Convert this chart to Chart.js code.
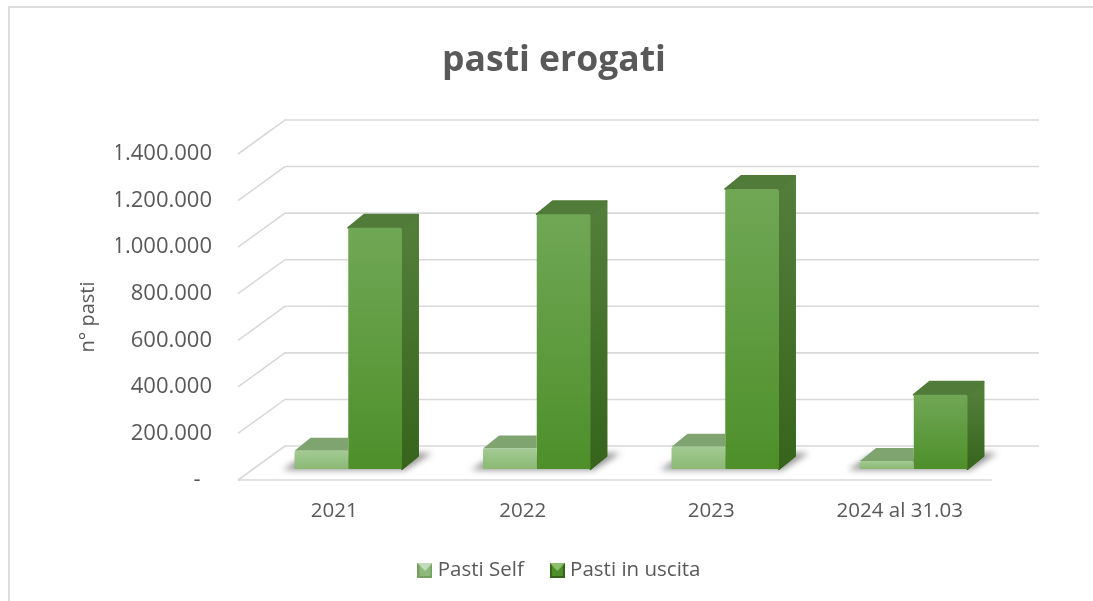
<!DOCTYPE html>
<html>
<head>
<meta charset="utf-8">
<title>pasti erogati</title>
<script src="https://cdn.jsdelivr.net/npm/chart.js@4"></script>
<style>
    html, body { margin: 0; padding: 0; background: #fff; }
    #wrap { position: relative; width: 1093px; height: 601px; overflow: hidden; }
    #frame { position: absolute; left: 8px; top: 6px; width: 1100px; height: 700px; border: 2px solid #dcdcdc; box-sizing: border-box; }
    canvas { position: absolute; left: 0; top: 0; }
</style>
</head>
<body>
<div id="wrap">
    <div id="frame"></div>
    <canvas id="myChart" width="1093" height="601"></canvas>
</div>

<script>
    const categories = ['2021', '2022', '2023', '2024 al 31.03'];
    const pastiSelf = [78000, 88000, 96000, 34000];
    const pastiUscita = [1036000, 1094000, 1202000, 319000];
    const tickLabels = ['-  ', '200.000', '400.000', '600.000', '800.000', '1.000.000', '1.200.000', '1.400.000'];

    const textColor = '#595959';
    const fontName = '"Open Sans", sans-serif';

    // how far the bars sit inside the floor, and how deep they and the floor are
    const barShift = { x: 16, y: -11 };
    const barDepth = { x: 16, y: -13 };
    const wallDepth = { x: 47, y: -34 };

    const selfColors = { frontTop: '#a3ca93', frontBottom: '#8bb974', top: '#80a470' };
    const uscitaColors = { frontTop: '#70a755', frontBottom: '#4e8f2a', top: '#507b38', sideTop: '#527e3a', sideBottom: '#37641b' };

    function frontGradient(context, colors) {
        const chart = context.chart;
        if (!chart.chartArea || context.parsed === undefined) return colors.frontBottom;
        const y = chart.scales.y;
        const g = chart.ctx.createLinearGradient(0, y.getPixelForValue(context.parsed.y), 0, y.getPixelForValue(0));
        g.addColorStop(0, colors.frontTop);
        g.addColorStop(1, colors.frontBottom);
        return g;
    }

    function legendIcon(light, mid, dark) {
        const c = document.createElement('canvas');
        c.width = 15;
        c.height = 15;
        const x = c.getContext('2d');
        x.fillStyle = mid;
        x.fillRect(0, 0, 15, 15);
        x.fillStyle = dark;
        x.fillRect(0, 0, 2, 15);
        x.fillRect(13, 0, 2, 15);
        x.fillRect(0, 13, 15, 2);
        x.fillStyle = light;
        x.beginPath();
        x.moveTo(0, 0);
        x.lineTo(15, 0);
        x.lineTo(7.5, 8);
        x.closePath();
        x.fill();
        return c;
    }

    const selfIcon = legendIcon('#c5dcbb', '#8eb97b', '#74a05f');
    const uscitaIcon = legendIcon('#8cc06c', '#4e8f2a', '#37641b');

    // fill a face and round its corners a little, like the bevel in the reference
    function fillFace(ctx, style) {
        ctx.closePath();
        ctx.fillStyle = style;
        ctx.strokeStyle = style;
        ctx.lineWidth = 2;
        ctx.lineJoin = 'round';
        ctx.fill();
        ctx.stroke();
    }

    const wallsPlugin = {
        id: 'walls',
        beforeDraw(chart) {
            // the legend sits a little right of the title in the reference
            if (!chart.$legendMoved) {
                chart.legend.left += 15;
                chart.$legendMoved = true;
            }
        },
        beforeDatasetsDraw(chart) {
            const ctx = chart.ctx;
            const y = chart.scales.y;
            const a = chart.chartArea;
            ctx.save();
            ctx.strokeStyle = '#d9d9d9';
            ctx.lineWidth = 1.6;
            y.ticks.forEach(t => {
                const py = y.getPixelForValue(t.value);
                ctx.beginPath();
                ctx.moveTo(a.left, py);
                ctx.lineTo(a.left + wallDepth.x, py + wallDepth.y);
                ctx.lineTo(a.right + wallDepth.x, py + wallDepth.y);
                ctx.stroke();
            });
            ctx.beginPath();
            ctx.moveTo(a.left, y.getPixelForValue(0));
            ctx.lineTo(a.right, y.getPixelForValue(0));
            ctx.stroke();

            // soft shadow on the floor under each bar pair
            const self = chart.getDatasetMeta(0).data;
            const out = chart.getDatasetMeta(1).data;
            ctx.filter = 'blur(3px)';
            ctx.fillStyle = 'rgba(80,80,80,0.62)';
            self.forEach((bar, i) => {
                const l = bar.x - bar.width / 2 + barShift.x;
                const r = out[i].x + out[i].width / 2 + barShift.x;
                const b = bar.base + barShift.y;
                ctx.beginPath();
                ctx.moveTo(l - 12, b + 1);
                ctx.lineTo(r + 3, b + 1);
                ctx.lineTo(r + barDepth.x + 14, b + barDepth.y - 3);
                ctx.lineTo(r, b + barDepth.y - 3);
                ctx.lineTo(l + 10, b + barDepth.y);
                ctx.closePath();
                ctx.fill();
            });
            ctx.restore();
        },
        beforeDatasetDraw(chart, args) {
            const ctx = chart.ctx;
            const isSelf = args.index === 0;
            const colors = isSelf ? selfColors : uscitaColors;
            ctx.save();
            ctx.translate(barShift.x, barShift.y);
            args.meta.data.forEach(bar => {
                const l = bar.x - bar.width / 2;
                const r = bar.x + bar.width / 2;
                // the self bar's side is hidden by the bar next to it
                if (isSelf) {
                    ctx.fillStyle = colors.top;
                    ctx.beginPath();
                    ctx.moveTo(l, bar.y);
                    ctx.lineTo(l + barDepth.x, bar.y + barDepth.y);
                    ctx.lineTo(r, bar.y + barDepth.y);
                    ctx.lineTo(r, bar.y);
                    ctx.closePath();
                    ctx.fill();
                    return;
                }
                const g = ctx.createLinearGradient(0, bar.y, 0, bar.base);
                g.addColorStop(0, colors.sideTop);
                g.addColorStop(1, colors.sideBottom);
                ctx.beginPath();
                ctx.moveTo(r, bar.y);
                ctx.lineTo(r + barDepth.x, bar.y + barDepth.y);
                ctx.lineTo(r + barDepth.x, bar.base + barDepth.y);
                ctx.lineTo(r, bar.base);
                fillFace(ctx, g);
                ctx.beginPath();
                ctx.moveTo(l, bar.y);
                ctx.lineTo(l + barDepth.x, bar.y + barDepth.y);
                ctx.lineTo(r + barDepth.x, bar.y + barDepth.y);
                ctx.lineTo(r, bar.y);
                fillFace(ctx, colors.top);
            });
        },
        afterDatasetDraw(chart) {
            chart.ctx.restore();
        }
    };

    const myChart = new Chart(document.getElementById('myChart').getContext('2d'), {
        type: 'bar',
        data: {
            labels: categories,
            datasets: [
                {
                    label: 'Pasti Self',
                    data: pastiSelf,
                    borderRadius: 2,
                    backgroundColor: c => frontGradient(c, selfColors)
                },
                {
                    label: 'Pasti in uscita',
                    data: pastiUscita,
                    borderRadius: 2,
                    backgroundColor: c => frontGradient(c, uscitaColors)
                }
            ]
        },
        options: {
            responsive: false,
            animation: false,
            layout: { padding: { left: 116, right: 101, top: 0, bottom: 10.25 } },
            categoryPercentage: 0.57,
            barPercentage: 1,
            plugins: {
                title: {
                    display: true,
                    text: 'pasti erogati',
                    color: textColor,
                    font: { family: fontName, size: 35.5, weight: 'bold' },
                    padding: { top: 40, bottom: 71.4 }
                },
                legend: {
                    position: 'bottom',
                    labels: {
                        color: textColor,
                        font: { family: fontName, size: 20.5 },
                        usePointStyle: true,
                        pointStyleWidth: 5,
                        boxWidth: 15,
                        boxHeight: 15,
                        padding: 31,
                        generateLabels: c => c.data.datasets.map((d, i) => ({
                            text: d.label,
                            datasetIndex: i,
                            fontColor: textColor,
                            pointStyle: i === 0 ? selfIcon : uscitaIcon
                        }))
                    }
                },
                tooltip: { enabled: false }
            },
            scales: {
                x: {
                    grid: { display: false },
                    border: { display: false },
                    afterFit: s => { s.height = 49.25; },
                    ticks: { color: textColor, font: { family: fontName, size: 20.5 }, padding: 10.7, labelOffset: 2 }
                },
                y: {
                    min: 0,
                    max: 1400000,
                    grid: { display: false },
                    border: { display: false },
                    afterFit: s => { s.width = 122; },
                    title: {
                        display: true,
                        text: 'n° pasti',
                        color: textColor,
                        font: { family: fontName, size: 20 },
                        padding: { top: -40, bottom: 0 }
                    },
                    ticks: {
                        stepSize: 200000,
                        color: textColor,
                        font: { family: fontName, size: 22 },
                        padding: 18,
                        callback: (v, i) => tickLabels[i]
                    }
                }
            }
        },
        plugins: [wallsPlugin]
    });
</script>
</body>
</html>
